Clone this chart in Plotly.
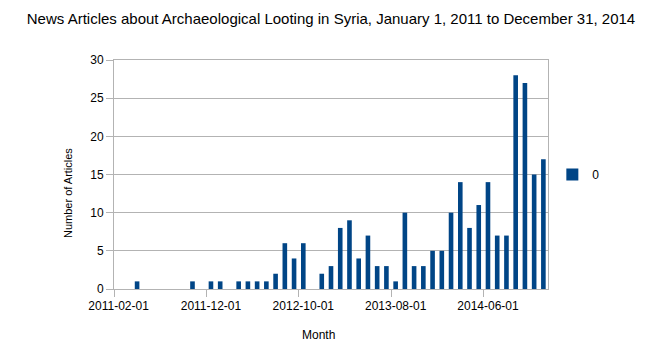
import plotly.graph_objects as go

months = [f"{y}-{m:02d}-01" for y in range(2011, 2015) for m in range(1, 13)][1:]
counts = [0, 0, 1, 0, 0, 0, 0, 0, 1, 0,
          1, 1, 0, 1, 1, 1, 1, 2, 6, 4,
          6, 0, 2, 3, 8, 9, 4, 7, 3, 3,
          1, 10, 3, 3, 5, 5, 10, 14, 8, 11,
          14, 7, 7, 28, 27, 15, 17]
tick_labels = months[::10]
y_ticks = [0, 5, 10, 15, 20, 25, 30]

grid = "#b3b3b3"
L, R, T, B = 114, 97, 60, 62
W, H = 645, 351
pw, ph = W - L - R, H - T - B

fig = go.Figure()
fig.add_trace(go.Bar(x=months, y=counts, name="0", marker_color="#004586",
                     marker_line_width=0))
# overlay axis used only for tick marks at category boundaries
boundaries = [i - 0.5 for i in range(0, len(months), 10)]
fig.add_trace(go.Scatter(x=[-0.5, len(months) - 0.5], y=[None, None], xaxis="x2",
                         showlegend=False, hoverinfo="skip", mode="markers"))

fig.update_layout(
    width=W, height=H,
    margin=dict(l=L, r=R, t=T, b=B),
    paper_bgcolor="white", plot_bgcolor="white",
    font=dict(family="Liberation Sans", size=12, color="#000000"),
    title=dict(text="News Articles about Archaeological Looting in Syria, January 1, 2011 to December 31, 2014",
               x=0.5, xanchor="center", y=1 - 19 / H, yanchor="middle", xref="paper",
               font=dict(family="Liberation Sans", size=15, color="#000000")),
    bargap=0.5,
    xaxis=dict(type="category", range=[-0.5, len(months) - 0.5],
               tickmode="array", tickvals=tick_labels, ticktext=tick_labels,
               ticks="", showgrid=False, showline=True, linecolor=grid, linewidth=1,
               mirror=True, zeroline=False, tickfont=dict(size=12),
               ticklabelstandoff=6),
    xaxis2=dict(overlaying="x", range=[-0.5, len(months) - 0.5], tickmode="array",
                tickvals=boundaries, ticks="outside", ticklen=7, tickcolor=grid,
                showticklabels=False, showgrid=False, zeroline=False, showline=False,
                side="bottom", anchor="y"),
    yaxis=dict(range=[0, 30], tickmode="array", tickvals=y_ticks, ticks="outside",
               ticklen=7, tickcolor=grid, gridcolor=grid, showline=True, linecolor=grid,
               mirror=True, zeroline=False, tickfont=dict(size=12)),
    legend=dict(x=0.015, y=0.5, xanchor="left", yanchor="middle", xref="paper",
                font=dict(size=12), itemwidth=30),
    showlegend=True,
    annotations=[
        dict(text="Number of Articles", textangle=-90,
             x=(68 - L) / pw, y=(289 - 193) / ph, xref="paper", yref="paper",
             xanchor="center", yanchor="middle",
             showarrow=False, font=dict(size=11)),
        dict(text="Month", x=(318 - L) / pw, y=(289 - 335) / ph, xref="paper", yref="paper",
             xanchor="center", yanchor="middle", showarrow=False,
             font=dict(size=12)),
    ],
)
fig.update_layout(legend=dict(x=1.01))
fig.write_html("out.html")
